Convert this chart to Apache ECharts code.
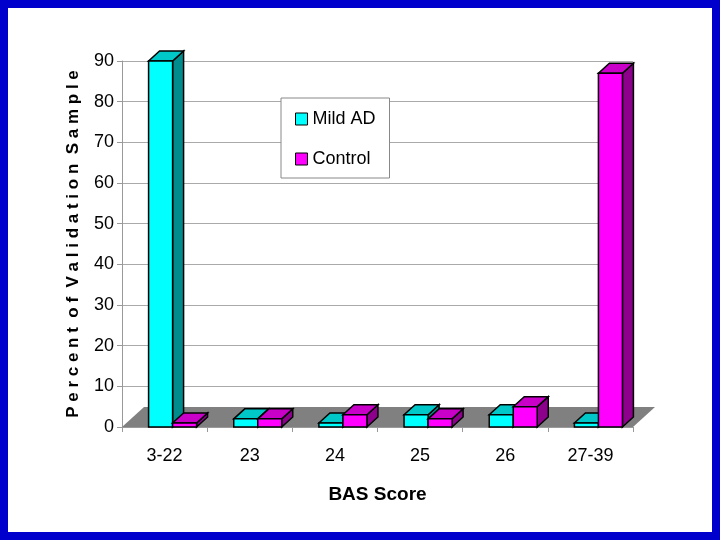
<!DOCTYPE html>
<html><head><meta charset="utf-8">
<script src="https://cdn.jsdelivr.net/npm/echarts@6/dist/echarts.min.js"></script>
<style>
html,body{margin:0;padding:0;background:#0000cc;}
#frame{position:absolute;left:8px;top:8px;width:704px;height:524px;background:#fff;}
#main{position:absolute;left:0;top:0;width:720px;height:540px;}
</style></head>
<body><div id="frame"></div><div id="main"></div>
<script>
const categories = ['3-22', '23', '24', '25', '26', '27-39'];
const mildAD = [90, 2, 1, 3, 3, 1];
const control = [1, 2, 3, 2, 5, 87];
const yTicks = [0, 10, 20, 30, 40, 50, 60, 70, 80, 90];

const DX = 11, DY = -10, BW = 24;
const FONT = 'Liberation Sans Narrow, Liberation Sans';

// 3D box drawn from axis coordinates
function box(api, idx, val, shift, front, top, side) {
  const base = api.coord([idx, 0]);
  const tip = api.coord([idx, val]);
  const x0 = base[0] + shift, x1 = x0 + BW;
  const y0 = base[1], y1 = tip[1];
  const st = { stroke: '#000', lineWidth: 1.5 };
  return {
    type: 'group',
    children: [
      { type: 'polygon', shape: { points: [[x1, y0], [x1 + DX, y0 + DY], [x1 + DX, y1 + DY], [x1, y1]] }, style: Object.assign({ fill: side }, st) },
      { type: 'polygon', shape: { points: [[x0, y1], [x1, y1], [x1 + DX, y1 + DY], [x0 + DX, y1 + DY]] }, style: Object.assign({ fill: top }, st) },
      { type: 'rect', shape: { x: x0, y: y1, width: BW, height: y0 - y1 }, style: Object.assign({ fill: front }, st) }
    ]
  };
}

const chart = echarts.init(document.getElementById('main'));
chart.setOption({
  animation: false,
  grid: { left: 122, right: 87, top: 61, bottom: 113 },
  legend: {
    left: 281, top: 98, width: 106, height: 84, orient: 'vertical',
    backgroundColor: '#fff', borderColor: '#888', borderWidth: 1,
    padding: [12, 14, 10, 14], itemGap: 22, itemWidth: 12, itemHeight: 12,
    textStyle: { fontFamily: FONT, fontSize: 18, color: '#000' },
    data: [
      { name: 'Mild AD', icon: 'rect', itemStyle: { color: '#00ffff', borderColor: '#000', borderWidth: 1 } },
      { name: 'Control', icon: 'rect', itemStyle: { color: '#ff00ff', borderColor: '#000', borderWidth: 1 } }
    ]
  },
  xAxis: {
    type: 'category', data: categories,
    name: 'BAS Score', nameLocation: 'middle', nameGap: 58,
    nameTextStyle: { fontFamily: FONT, fontSize: 19, fontWeight: 'bold', color: '#000' },
    axisLine: { lineStyle: { color: '#999' } },
    axisTick: { show: true, lineStyle: { color: '#999' } },
    axisLabel: { margin: 20, fontFamily: FONT, fontSize: 18, color: '#000' }
  },
  yAxis: {
    type: 'value', min: 0, max: 90, interval: 10,
    name: 'P e r c e n t  o f  V a l i d a t i o n  S a m p l e',
    nameLocation: 'middle', nameGap: 40,
    nameTextStyle: { fontFamily: 'Liberation Sans', fontSize: 17, fontWeight: 'bold', color: '#000' },
    axisLine: { show: true, lineStyle: { color: '#999' } },
    axisTick: { show: true, lineStyle: { color: '#999' } },
    splitLine: { lineStyle: { color: '#aaa' } },
    axisLabel: { fontFamily: FONT, fontSize: 18, color: '#000', formatter: v => yTicks.includes(v) ? v : '' }
  },
  series: [
    {
      type: 'custom', name: 'floor', data: [0], silent: true, z: 1,
      renderItem: (params, api) => {
        const a = api.coord([0, 0]);
        const cs = params.coordSys;
        const x0 = cs.x, x1 = cs.x + cs.width, y = a[1];
        return { type: 'polygon', shape: { points: [[x0, y], [x1, y], [x1 + 2 * DX, y + 2 * DY], [x0 + 2 * DX, y + 2 * DY]] }, style: { fill: '#808080' } };
      }
    },
    {
      type: 'custom', name: 'Mild AD', z: 3,
      itemStyle: { color: '#00ffff' },
      data: mildAD.map((v, i) => [i, v]),
      renderItem: (params, api) => box(api, api.value(0), api.value(1), -16, '#00ffff', '#00c8c8', '#008c8c')
    },
    {
      type: 'custom', name: 'Control', z: 4,
      itemStyle: { color: '#ff00ff' },
      data: control.map((v, i) => [i, v]),
      renderItem: (params, api) => box(api, api.value(0), api.value(1), 8, '#ff00ff', '#c800c8', '#8c008c')
    }
  ]
});
</script>
</body></html>
